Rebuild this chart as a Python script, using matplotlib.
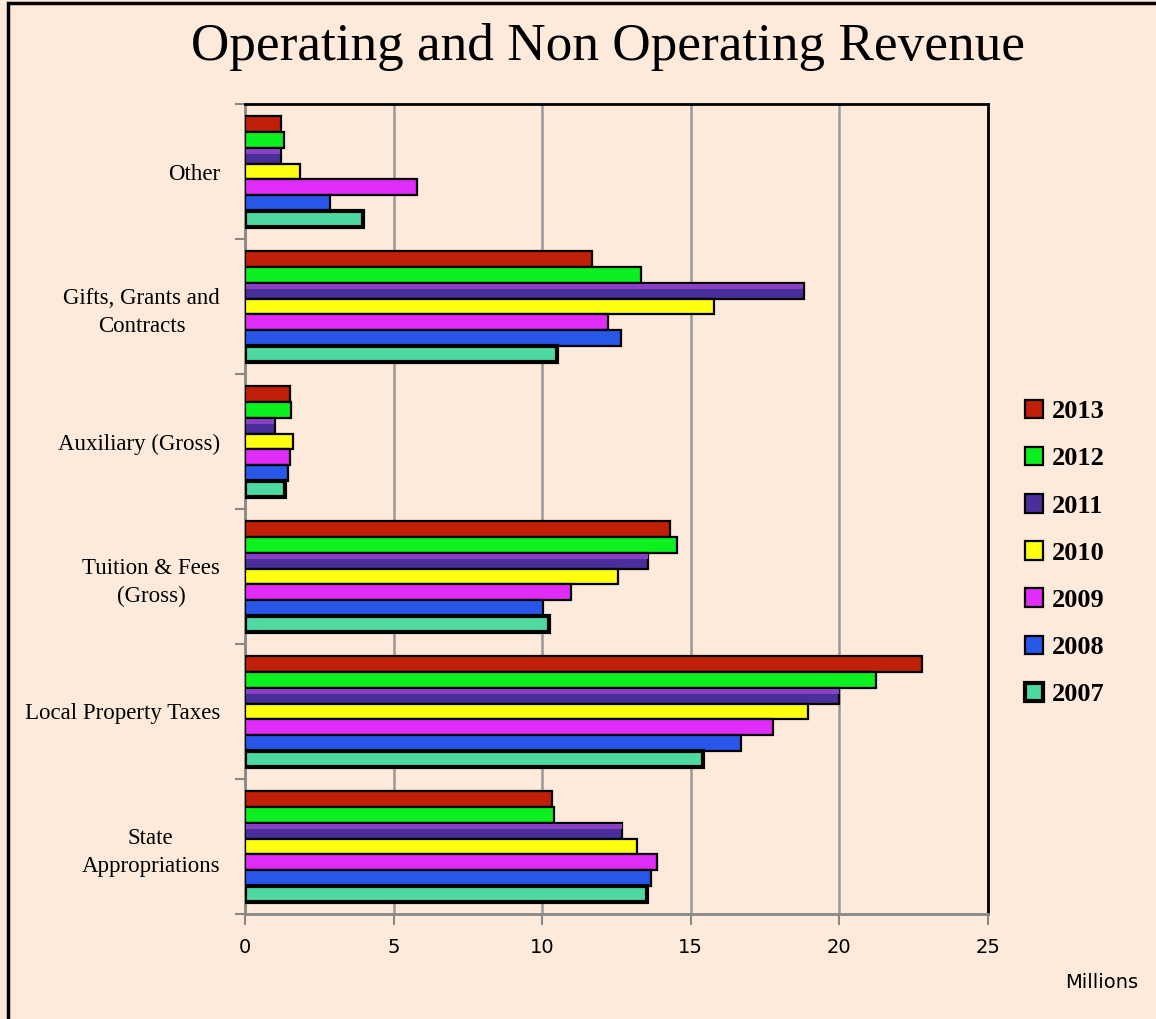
import numpy as np
import matplotlib
matplotlib.use('Agg')
import matplotlib.pyplot as plt
from matplotlib.patches import Rectangle

# データ（単位：百万ドル）
categories = ['State\nAppropriations', 'Local Property Taxes', 'Tuition & Fees\n(Gross)',
              'Auxiliary (Gross)', 'Gifts, Grants and\nContracts', 'Other']
years = ['2013', '2012', '2011', '2010', '2009', '2008', '2007']

v2013 = [10.32, 22.78, 14.30, 1.51, 11.66, 1.20]
v2012 = [10.39, 21.22, 14.54, 1.54, 13.34, 1.30]
v2011 = [12.70, 20.00, 13.57, 1.01, 18.81, 1.21]
v2010 = [13.20, 18.95, 12.56, 1.63, 15.77, 1.84]
v2009 = [13.86, 17.76, 10.96, 1.51, 12.20, 5.79]
v2008 = [13.67, 16.69, 10.02, 1.45, 12.66, 2.86]
v2007 = [13.52, 15.41, 10.23, 1.35, 10.50, 3.98]
series = [v2013, v2012, v2011, v2010, v2009, v2008, v2007]

colors = ['#C01F08', '#0DF020', '#4A2E9A', '#FFFF10', '#E02CF8', '#2856E8', '#4DD9A0']
edge_widths = [1.6, 1.6, 1.6, 1.6, 1.6, 1.6, 3.0]

bg = '#FDEADB'
serif = ['Liberation Serif', 'DejaVu Serif']
narrow = ['Liberation Sans Narrow', 'DejaVu Sans Condensed', 'DejaVu Sans']

fig = plt.figure(figsize=(11.56, 10.19), dpi=100, facecolor=bg)
ax = fig.add_axes([245 / 1156, 1 - 914 / 1019, (988 - 245) / 1156, (914 - 104) / 1019])
ax.set_facecolor(bg)

y = np.arange(len(categories))
h = 0.118
for j, (vals, c, lw) in enumerate(zip(series, colors, edge_widths)):
    pos = y + (3 - j) * h
    ax.barh(pos, vals, height=h, color=c, edgecolor='black', linewidth=lw,
            label=years[j], zorder=3)
    if years[j] == '2011':
        # 紫のバーの上側の明るい帯
        ax.barh(pos + h * 0.25, np.array(vals) - 0.04, height=h * 0.36, left=0.02,
                color='#8A40C4', linewidth=0, zorder=4)

ax.set_xlim(0, 25)
ax.set_ylim(-0.5, 5.5)

# 軸目盛り
ax.set_xticks([0, 5, 10, 15, 20, 25])
ax.set_xticklabels(['0', '5', '10', '15', '20', '25'], family=narrow, fontsize=14)
ax.tick_params(axis='x', colors='#888888', length=8, width=1.5, pad=9, labelcolor='black')

ax.set_yticks(np.arange(-0.5, 6.0, 1.0))
ax.set_yticklabels([])
ax.set_yticks(y, minor=True)
ax.set_yticklabels(categories, minor=True, family=serif, fontsize=16.5,
                   multialignment='center', linespacing=1.45)
ax.tick_params(axis='y', which='major', colors='#888888', length=7, width=1.5)
ax.tick_params(axis='y', which='minor', length=0, pad=18)

ax.grid(axis='x', color='#999999', linewidth=1.8, zorder=0)
ax.set_axisbelow(True)

ax.spines['left'].set_color('#888888')
ax.spines['left'].set_linewidth(2)
ax.spines['bottom'].set_color('#888888')
ax.spines['bottom'].set_linewidth(2)
ax.spines['top'].set_color('black')
ax.spines['top'].set_linewidth(2)
ax.spines['right'].set_color('black')
ax.spines['right'].set_linewidth(2)

# タイトルとラベル
fig.text(608 / 1156, 1 - 47 / 1019, 'Operating and Non Operating Revenue',
         family=serif, fontsize=38.3, ha='center', va='center')
fig.text(1102 / 1156, 1 - 982 / 1019, 'Millions', family=narrow, fontsize=14,
         ha='center', va='center')

# 凡例
leg = ax.legend(loc='center left', bbox_to_anchor=(1014 / 1156, 1 - 553 / 1019),
                bbox_transform=fig.transFigure, frameon=False,
                prop={'family': serif, 'size': 19, 'weight': 'bold'},
                handlelength=0.7, handleheight=0.7, handletextpad=0.35,
                labelspacing=0.9, borderaxespad=0)

# 外枠
fig.patches.append(Rectangle((8 / 1156, -0.05), 1.2, 1 - 3 / 1019 + 0.05,
                             transform=fig.transFigure, fill=False,
                             edgecolor='black', linewidth=2.5))

plt.savefig('out.png', dpi=100, facecolor=bg)
